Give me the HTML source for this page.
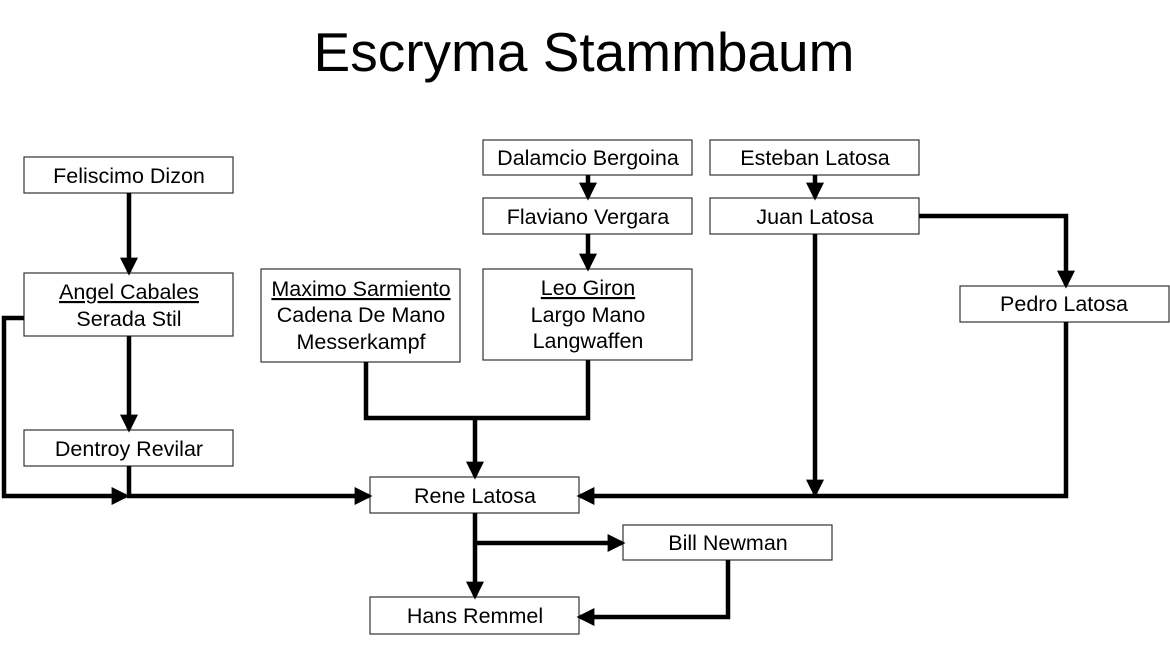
<!DOCTYPE html>
<html><head><style>
body{margin:0;background:#fff;}
svg text{font-family:"Liberation Sans",Arial,sans-serif;fill:#000;}
</style></head><body>
<svg width="1170" height="644" viewBox="0 0 1170 644" xmlns="http://www.w3.org/2000/svg">
<defs>
<marker id="a" markerWidth="4" markerHeight="4" refX="3.2" refY="2" orient="auto" markerUnits="strokeWidth">
<path d="M0,0 L4,2 L0,4 z" fill="#000"/></marker>
</defs>
<text x="584" y="71" font-size="55" text-anchor="middle">Escryma Stammbaum</text>
<g fill="#fff" stroke="#333" stroke-width="1.2">
<rect x="24" y="157" width="209" height="36"/>
<rect x="24" y="273" width="209" height="63"/>
<rect x="24" y="430" width="209" height="36"/>
<rect x="261" y="269" width="199" height="93"/>
<rect x="483" y="140" width="209" height="35"/>
<rect x="483" y="198" width="209" height="36"/>
<rect x="483" y="269" width="209" height="91"/>
<rect x="710" y="140" width="209" height="35"/>
<rect x="710" y="198" width="209" height="36"/>
<rect x="960" y="286" width="209" height="36"/>
<rect x="370" y="477" width="209" height="36"/>
<rect x="623" y="525" width="209" height="35"/>
<rect x="370" y="597" width="209" height="37"/>
</g>
<g fill="none" stroke="#000" stroke-width="4.5">
<path d="M129,193 V272" marker-end="url(#a)"/>
<path d="M129,336 V429" marker-end="url(#a)"/>
<path d="M24,318 H4 V496 H126" marker-end="url(#a)"/>
<path d="M129,466 V496 H369" marker-end="url(#a)"/>
<path d="M366,362 V418 H588 V360"/>
<path d="M475,418 V476" marker-end="url(#a)"/>
<path d="M588,175 V197" marker-end="url(#a)"/>
<path d="M588,234 V268" marker-end="url(#a)"/>
<path d="M815,175 V197" marker-end="url(#a)"/>
<path d="M919,216 H1066 V285" marker-end="url(#a)"/>
<path d="M815,234 V494" marker-end="url(#a)"/>
<path d="M1066,322 V496 H580" marker-end="url(#a)"/>
<path d="M475,513 V596" marker-end="url(#a)"/>
<path d="M475,543 H622" marker-end="url(#a)"/>
<path d="M728,560 V617 H580" marker-end="url(#a)"/>
</g>
<g font-size="21.5" text-anchor="middle">
<text x="129" y="183">Feliscimo Dizon</text>
<text x="129" y="299" text-decoration="underline">Angel Cabales</text>
<text x="129" y="326">Serada Stil</text>
<text x="129" y="456">Dentroy Revilar</text>
<text x="361" y="296" text-decoration="underline">Maximo Sarmiento</text>
<text x="361" y="322">Cadena De Mano</text>
<text x="361" y="349">Messerkampf</text>
<text x="588" y="165">Dalamcio Bergoina</text>
<text x="588" y="224">Flaviano Vergara</text>
<text x="588" y="295" text-decoration="underline">Leo Giron</text>
<text x="588" y="322">Largo Mano</text>
<text x="588" y="348">Langwaffen</text>
<text x="815" y="165">Esteban Latosa</text>
<text x="815" y="224">Juan Latosa</text>
<text x="1064" y="311">Pedro Latosa</text>
<text x="475" y="503">Rene Latosa</text>
<text x="728" y="550">Bill Newman</text>
<text x="475" y="623">Hans Remmel</text>
</g>
</svg>
</body></html>
